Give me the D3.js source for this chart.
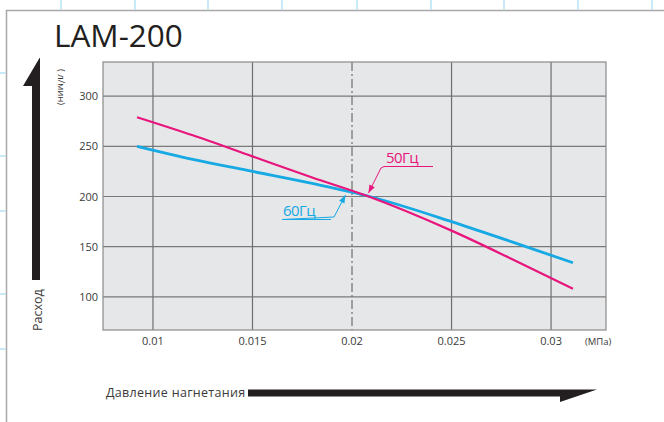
<!DOCTYPE html>
<html>
<head>
<meta charset="utf-8">
<script src="https://cdn.jsdelivr.net/npm/d3@7"></script>
<style>
  body { margin: 0; background: #fff; }
  svg text { font-family: "Open Sans", "Noto Sans", sans-serif; }
</style>
</head>
<body>
<div id="chart"></div>
<script>
// data
const pressure50 = [0.0092, 0.012, 0.015, 0.018, 0.0207, 0.025, 0.028, 0.0311];
const flow50     = [279, 261, 240, 219, 201, 166, 138, 108];
const pressure60 = [0.0092, 0.012, 0.015, 0.018, 0.0207, 0.025, 0.028, 0.0311];
const flow60     = [250, 237, 225, 213, 201, 175, 155, 134];
const xTicks = [0.01, 0.015, 0.02, 0.025, 0.03];
const yTicks = [100, 150, 200, 250, 300];
const seriesNames = ["50Гц", "60Гц"];

const W = 664, H = 422;
const plot = {left: 103, right: 606, top: 62, bottom: 330};

const svg = d3.select("#chart").append("svg")
    .attr("width", W)
    .attr("height", H);

// page frame with crop marks
svg.append("path")
    .attr("d", "M6.5,422V10.5H664")
    .attr("fill", "none")
    .attr("stroke", "#a9a9a9")
    .attr("stroke-width", 1.5);
[61, 135, 208, 282, 357, 431, 504, 578, 652].forEach(x => {
    svg.append("line").attr("x1", x).attr("x2", x).attr("y1", 0).attr("y2", 9.5)
        .attr("stroke", "#8fd3f2").attr("stroke-width", 1);
});
[73, 156, 211, 294, 349].forEach(y => {
    svg.append("line").attr("x1", 0).attr("x2", 5.5).attr("y1", y).attr("y2", y)
        .attr("stroke", "#8fd3f2").attr("stroke-width", 1);
});

// title
svg.append("text")
    .attr("x", 54).attr("y", 47)
    .attr("font-size", 31.5)
    .attr("fill", "#231f20")
    .text("LAM-200");

// scales
const x = d3.scaleLinear().domain([0.00749, 0.03276]).range([plot.left, plot.right]);
const y = d3.scaleLinear().domain([67, 334]).range([plot.bottom, plot.top]);

const g = svg.append("g");

g.append("rect")
    .attr("x", plot.left).attr("y", plot.top)
    .attr("width", plot.right - plot.left)
    .attr("height", plot.bottom - plot.top)
    .attr("fill", "#e6e7e8");

// grid
g.selectAll(".hgrid").data(yTicks).join("line")
    .attr("class", "hgrid")
    .attr("x1", plot.left).attr("x2", plot.right)
    .attr("y1", d => y(d)).attr("y2", d => y(d))
    .attr("stroke", "#7a7a7a").attr("stroke-width", 1.2);

g.selectAll(".vgrid").data(xTicks).join("line")
    .attr("class", "vgrid")
    .attr("x1", d => x(d)).attr("x2", d => x(d))
    .attr("y1", plot.top).attr("y2", plot.bottom)
    .attr("stroke", "#6f6f6f").attr("stroke-width", 1.2)
    .attr("stroke-dasharray", d => d === 0.02 ? "9,3,2,3" : null);

g.append("rect")
    .attr("x", plot.left).attr("y", plot.top)
    .attr("width", plot.right - plot.left)
    .attr("height", plot.bottom - plot.top)
    .attr("fill", "none")
    .attr("stroke", "#8a8a8a").attr("stroke-width", 1.2);

// tick labels
g.selectAll(".ylab").data(yTicks).join("text")
    .attr("class", "ylab")
    .attr("x", 98).attr("y", d => y(d) + 4)
    .attr("text-anchor", "end")
    .attr("font-size", 11).attr("fill", "#3a3a3a")
    .text(d => d);

g.selectAll(".xlab").data(xTicks).join("text")
    .attr("class", "xlab")
    .attr("x", d => x(d)).attr("y", 345)
    .attr("text-anchor", "middle")
    .attr("font-size", 11).attr("fill", "#3a3a3a")
    .text(d => d);

svg.append("text")
    .attr("x", 585).attr("y", 345)
    .attr("font-size", 9.5).attr("fill", "#3a3a3a")
    .text("(МПа)");

svg.append("text")
    .attr("transform", "translate(58,69) rotate(90)")
    .attr("font-size", 9.5).attr("fill", "#3a3a3a")
    .text("( л/мин)");

// lines
const line = d3.line()
    .x(d => x(d[0]))
    .y(d => y(d[1]))
    .curve(d3.curveMonotoneX);

const colors = {"50Гц": "#e8157d", "60Гц": "#16a9e4"};

g.append("path")
    .datum(d3.zip(pressure60, flow60))
    .attr("fill", "none")
    .attr("stroke", colors["60Гц"])
    .attr("stroke-width", 2.8)
    .attr("d", line);

g.append("path")
    .datum(d3.zip(pressure50, flow50))
    .attr("fill", "none")
    .attr("stroke", colors["50Гц"])
    .attr("stroke-width", 2.2)
    .attr("d", line);

// callouts
function callout(name, tx, ty, ux1, ux2, uy, pts) {
    const c = colors[name];
    svg.append("text")
        .attr("x", tx).attr("y", ty)
        .attr("font-size", 15).attr("fill", c)
        .attr("letter-spacing", -0.6)
        .text(name);
    svg.append("path")
        .attr("d", `M${ux2},${uy}H${ux1}` + pts.map(p => `L${p[0]},${p[1]}`).join(""))
        .attr("fill", "none").attr("stroke", c).attr("stroke-width", 1);
    const tip = pts[pts.length - 1], prev = pts[pts.length - 2];
    const ang = Math.atan2(tip[1] - prev[1], tip[0] - prev[0]);
    const len = 8, wid = 3;
    const bx = tip[0] - len * Math.cos(ang), by = tip[1] - len * Math.sin(ang);
    svg.append("path")
        .attr("d", `M${tip[0]},${tip[1]}L${bx + wid * Math.sin(ang)},${by - wid * Math.cos(ang)}L${bx - wid * Math.sin(ang)},${by + wid * Math.cos(ang)}Z`)
        .attr("fill", c);
}
callout("50Гц", 386, 163, 384, 433, 166.5, [[381, 168], [368.5, 193]]);
callout("60Гц", 283, 216, 282, 331, 219.5, [[334, 217], [345.5, 195]]);

// axis arrows
svg.append("path")
    .attr("d", "M32,280V86H23L39.5,58L40,58V280Z")
    .attr("fill", "#231f20");
svg.append("text")
    .attr("transform", "translate(42,331) rotate(-90)")
    .attr("font-size", 12.5).attr("fill", "#3a3a3a")
    .text("Расход");

svg.append("path")
    .attr("d", "M248,389.5H597L560,402V396.5H248Z")
    .attr("fill", "#231f20");
svg.append("text")
    .attr("x", 106).attr("y", 397)
    .attr("font-size", 12.5).attr("fill", "#3a3a3a")
    .attr("letter-spacing", 0.3)
    .text("Давление нагнетания");
</script>
</body>
</html>
